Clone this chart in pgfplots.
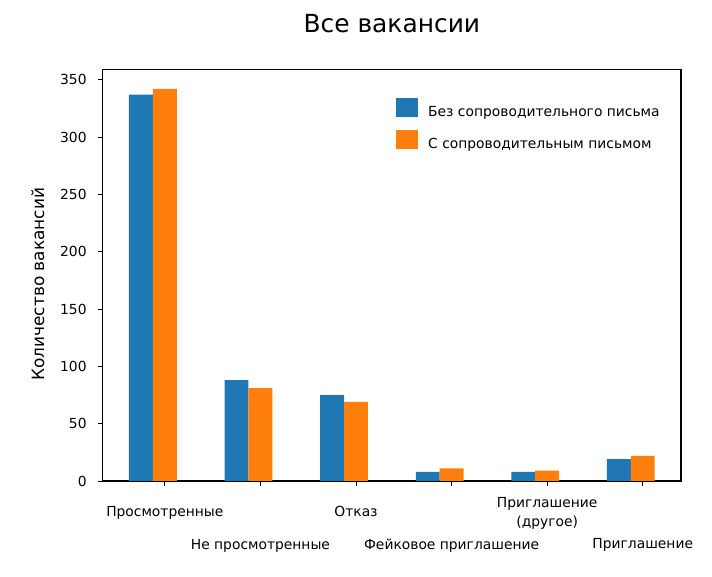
\documentclass[border=0pt]{standalone}
\usepackage{fontspec}
\setmainfont{DejaVu Sans}
\usepackage{pgfplots}
\pgfplotsset{compat=1.18}
\definecolor{tabblue}{HTML}{1F77B4}
\definecolor{taborange}{HTML}{FF7F0E}
\begin{document}
\begin{tikzpicture}
\useasboundingbox (0,0) rectangle (712bp,577bp);
\begin{axis}[
  at={(102.7bp,96bp)}, anchor=south west,
  scale only axis, width=578.3bp, height=411.7bp,
  xmin=-0.65, xmax=5.4, ymin=0, ymax=359.1,
  ybar, bar width=0.25,
  axis line style={line width=1.2bp, black},
  tick align=outside, major tick length=4.9bp,
  tick style={black, line width=1bp},
  xtick pos=bottom, ytick pos=left,
  xtick={0,1,2,3,4,5},
  xticklabels={
    {\rule{0pt}{30bp}Просмотренные},
    {\rule{0pt}{63bp}Не просмотренные},
    {\rule{0pt}{30bp}Отказ},
    {\rule{0pt}{63bp}Фейковое приглашение},
    {\rule{0pt}{21bp}Приглашение\\(другое)},
    {\rule{0pt}{62bp}Приглашение}},
  xticklabel style={font=\fontsize{13.9}{19}\selectfont, anchor=north, align=center, inner sep=0pt},
  ytick={0,50,100,150,200,250,300,350},
  yticklabel style={font=\fontsize{13.9}{16}\selectfont, anchor=east, inner sep=0pt, xshift=-11bp},
  /pgf/number format/assume math mode=true,
  title={Все вакансии},
  title style={at={(0.5,1.076)}, anchor=base, font=\fontsize{25}{30}\selectfont},
  ylabel={Количество вакансий},
  ylabel style={at={(-0.112,0.478)}, anchor=center, font=\fontsize{17}{20}\selectfont},
  legend style={at={(0.5072,0.9303)}, anchor=north west, draw=none, fill=none,
    inner sep=0pt, row sep=12bp, font=\fontsize{13.9}{16}\selectfont,
    nodes={inner sep=0pt, anchor=west},
    /tikz/every odd column/.append style={column sep=10bp}},
  legend cell align=left,
]
\addplot[fill=tabblue, draw=none, bar shift=0pt,
  legend image code/.code={\fill[tabblue] (0bp,-5bp) rectangle (22bp,14bp);}]
  coordinates {(-0.25,337) (0.75,88) (1.75,75) (2.75,8) (3.75,8) (4.75,19)};
\addlegendentry{Без сопроводительного письма}
\addplot[fill=taborange, draw=none, bar shift=0pt,
  legend image code/.code={\fill[taborange] (0bp,-5bp) rectangle (22bp,14bp);}]
  coordinates {(0,342) (1,81) (2,69) (3,11) (4,9) (5,22)};
\addlegendentry{С сопроводительным письмом}
\end{axis}
\end{tikzpicture}
\end{document}
